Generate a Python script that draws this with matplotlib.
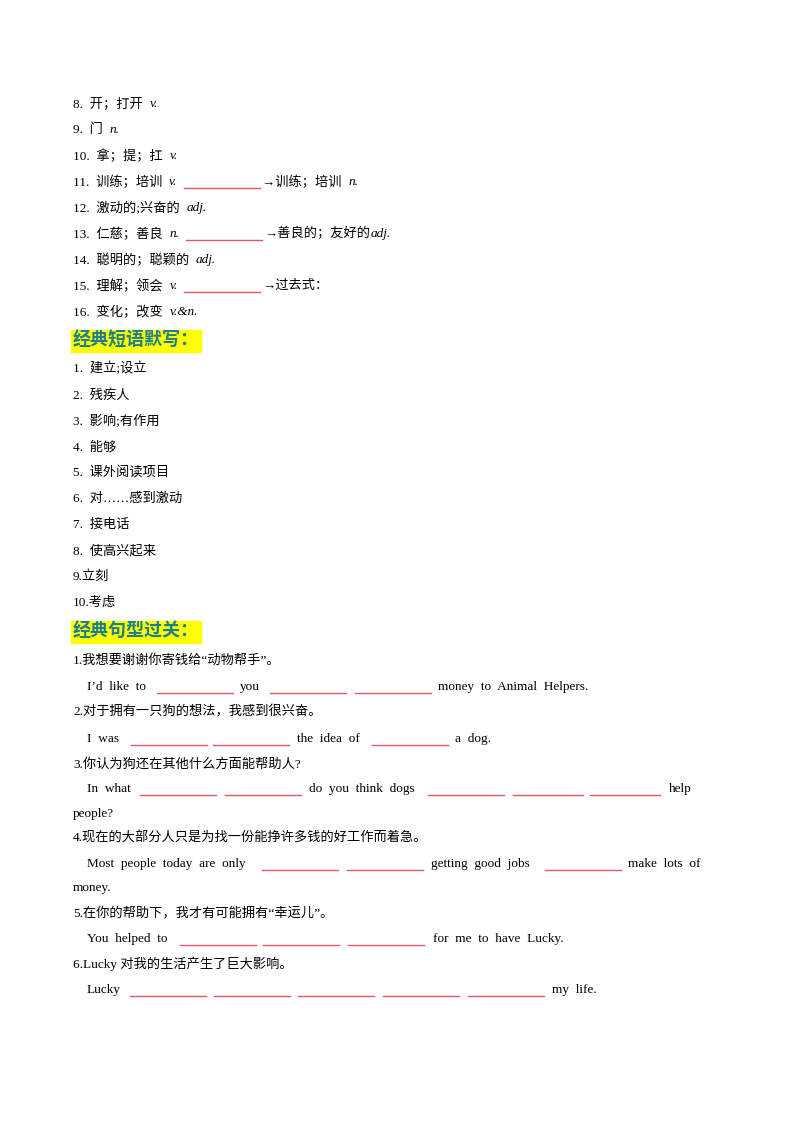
import matplotlib.pyplot as plt
from matplotlib.patches import Rectangle

FONT = ['Liberation Serif', 'Noto Sans CJK SC']
RED = '#e8546a'
TEAL = '#1c7f8c'

# vocabulary lines: runs of (text, style); style 'n' normal, 'i' italic, 'b' blank
vocab_rows = [
    (104, [("8.  开；打开  ", 'n'), ("v.", 'i')]),
    (130, [("9.  门  ", 'n'), ("n.", 'i')]),
    (156, [("10.  拿；提；扛  ", 'n'), ("v.", 'i')]),
    (182, [("11.  训练；培训  ", 'n'), ("v.", 'i'), ("  ", 'n'), ("", 'b'), ("→训练；培训  ", 'n'), ("n.", 'i')]),
    (208, [("12.  激动的;兴奋的  ", 'n'), ("adj.", 'i')]),
    (234, [("13.  仁慈；善良  ", 'n'), ("n.", 'i'), ("  ", 'n'), ("", 'b'), ("→善良的；友好的", 'n'), ("adj.", 'i')]),
    (260, [("14.  聪明的；聪颖的  ", 'n'), ("adj.", 'i')]),
    (286, [("15.  理解；领会  ", 'n'), ("v.", 'i'), ("  ", 'n'), ("", 'b'), ("→过去式：", 'n')]),
    (312, [("16.  变化；改变  ", 'n'), ("v.&n.", 'i')]),
]

heading1 = ("经典短语默写：", 341)
phrases = ["1.  建立;设立", "2.  残疾人", "3.  影响;有作用", "4.  能够", "5.  课外阅读项目",
           "6.  对……感到激动", "7.  接电话", "8.  使高兴起来", "9.立刻", "10.考虑"]
phrase_y = [369, 396, 421, 447, 473, 499, 525, 551, 577, 603]

heading2 = ("经典句型过关：", 632)
# sentence lines: (y, [(x, text)], [(x0, x1) blanks])
sentences = [
    (661, [(73, "1.我想要谢谢你寄钱给“动物帮手”。")], []),
    (687, [(87, "I’d  like  to"), (240, "you"), (438, "money  to  Animal  Helpers.")],
     [(157, 233), (270, 346), (355, 431)]),
    (712, [(73, "2.对于拥有一只狗的想法，我感到很兴奋。")], []),
    (739, [(87, "I  was"), (297, "the  idea  of"), (455, "a  dog.")],
     [(131, 207), (213, 289), (372, 448)]),
    (764, [(73, "3.你认为狗还在其他什么方面能帮助人?")], []),
    (789, [(87, "In  what"), (309, "do  you  think  dogs"), (669, "help")],
     [(140, 216), (225, 301), (428, 504), (513, 583), (590, 660)]),
    (814, [(73, "people?")], []),
    (838, [(73, "4.现在的大部分人只是为找一份能挣许多钱的好工作而着急。")], []),
    (864, [(87, "Most  people  today  are  only"), (431, "getting  good  jobs"), (628, "make  lots  of")],
     [(262, 338), (347, 423), (545, 621)]),
    (888, [(73, "money.")], []),
    (913, [(73, "5.在你的帮助下，我才有可能拥有“幸运儿”。")], []),
    (939, [(87, "You  helped  to"), (433, "for  me  to  have  Lucky.")],
     [(180, 256), (263, 339), (348, 424)]),
    (964, [(73, "6.Lucky 对我的生活产生了巨大影响。")], []),
    (990, [(87, "Lucky"), (552, "my  life.")],
     [(130, 206), (214, 290), (298, 374), (383, 459), (468, 544)]),
]

fig = plt.figure(figsize=(8, 11.32), dpi=100)
ax = fig.add_axes([0, 0, 1, 1])
ax.set_xlim(0, 800)
ax.set_ylim(1132, 0)
ax.axis('off')
fig.canvas.draw()
renderer = fig.canvas.get_renderer()
FS = 9.5


def blank(x0, x1, y):
    ax.plot([x0, x1], [y + 6, y + 6], color=RED, lw=1.0)


for y, runs in vocab_rows:
    x = 73
    for txt, st in runs:
        if st == 'b':
            blank(x, x + 76, y)
            x += 78
            continue
        t = ax.text(x, y, txt, fontsize=FS, family=FONT, va='center',
                    style='italic' if st == 'i' else 'normal')
        bb = t.get_window_extent(renderer)
        x += bb.width

for txt, y in (heading1, heading2):
    t = ax.text(73, y, txt, fontsize=13, family=FONT, weight='bold', color=TEAL, va='center')
    bb = t.get_window_extent(renderer)
    ax.add_patch(Rectangle((71, y - 11), bb.width + 4, 22, color='#ffff00', zorder=0))

for txt, y in zip(phrases, phrase_y):
    ax.text(73, y, txt, fontsize=FS, family=FONT, va='center')

for y, texts, blanks in sentences:
    for x, txt in texts:
        ax.text(x, y, txt, fontsize=FS, family=FONT, va='center')
    for x0, x1 in blanks:
        blank(x0, x1, y)

fig.savefig('out.png', dpi=100)
